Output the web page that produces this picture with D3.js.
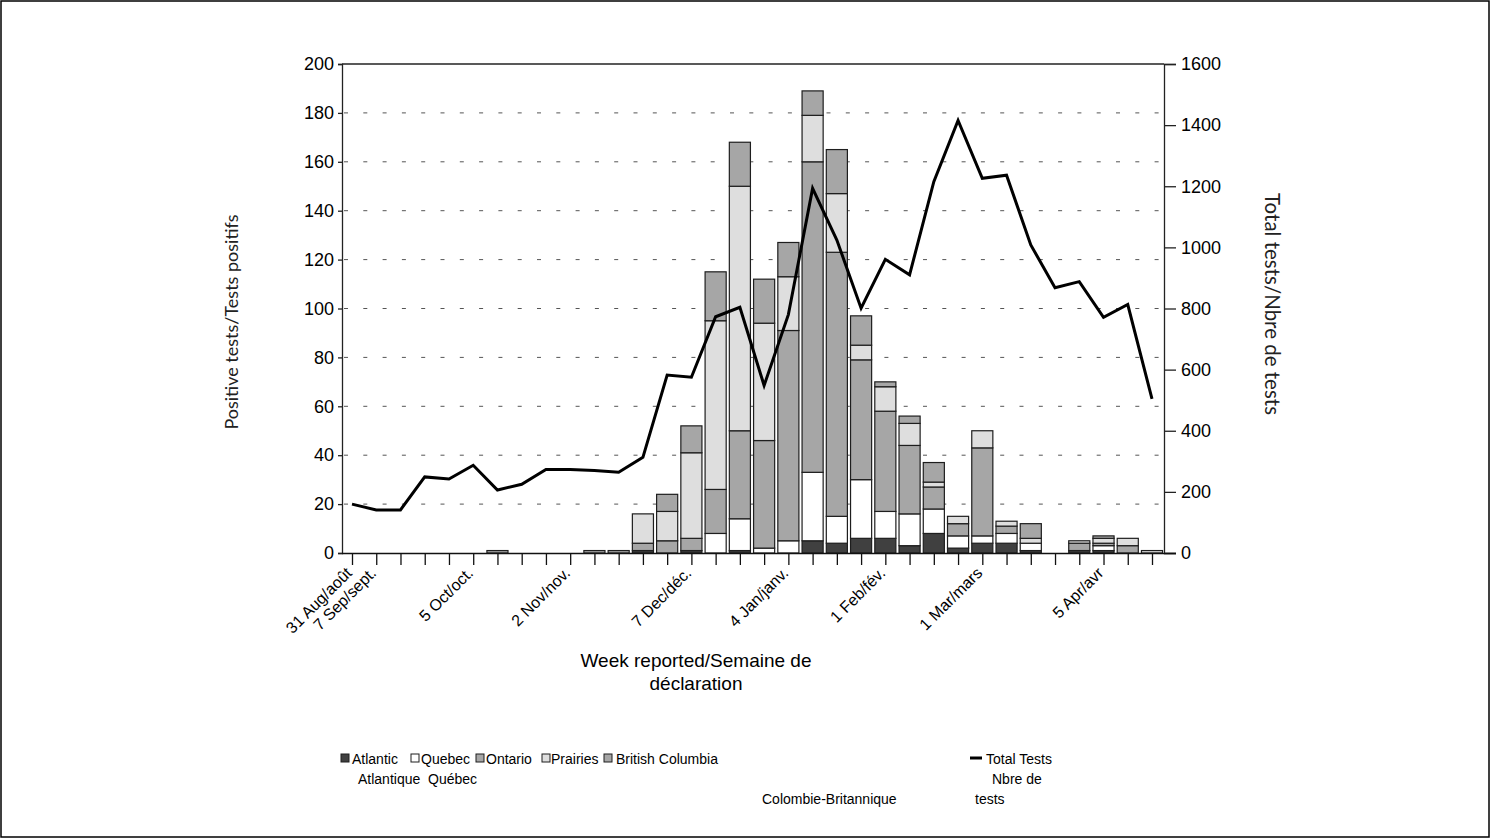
<!DOCTYPE html>
<html>
<head>
<meta charset="utf-8">
<script src="https://cdn.jsdelivr.net/npm/d3@7"></script>
<style>
  html, body { margin: 0; padding: 0; background: #fff; }
  svg { display: block; }
</style>
</head>
<body>
<svg id="chart" width="1491" height="839"></svg>
<script>
// ---------------- DATA ----------------
const weekLabels = ["31 Aug/août","7 Sep/sept.","","","","5 Oct/oct.","","","","2 Nov/nov.","","","","",
  "7 Dec/déc.","","","","4 Jan/janv.","","","","1 Feb/fév.","","","","1 Mar/mars","","","","","5 Apr/avr","",""];
const seriesNames = ["Atlantic","Quebec","Ontario","Prairies","British Columbia"];
const atlantic = [0,0,0,0,0,0,0,0,0,0,0,0,1,0,1,0,1,0,0,5,4,6,6,3,8,2,4,4,1,0,1,1,0,0];
const quebec   = [0,0,0,0,0,0,0,0,0,0,0,0,0,0,0,8,13,2,5,28,11,24,11,13,10,5,3,4,3,0,0,2,0,0];
const ontario  = [0,0,0,0,0,0,1,0,0,0,1,1,3,5,5,18,36,44,86,127,108,49,41,28,9,5,36,3,0,0,3,1,3,0];
const prairies = [0,0,0,0,0,0,0,0,0,0,0,0,12,12,35,69,100,48,22,19,24,6,10,9,2,3,7,2,2,0,1,2,3,1];
const bc       = [0,0,0,0,0,0,0,0,0,0,0,0,0,7,11,20,18,18,14,10,18,12,2,3,8,0,0,0,6,0,0,1,0,0];
const totalTests = [160,141,141,249,242,287,206,225,273,273,270,264,313,582,575,773,804,548,780,1193,
  1024,801,961,910,1215,1415,1226,1236,1008,868,888,771,813,504];
const leftTicks = [0,20,40,60,80,100,120,140,160,180,200];
const rightTicks = [0,200,400,600,800,1000,1200,1400,1600];

// ---------------- LAYOUT / STYLE ----------------
const svg = d3.select("#chart");
const W = 1491, H = 839;
const P = {left: 342, right: 1164, top: 64, bottom: 553};
const colors = ["#404040","#ffffff","#a6a6a6","#dedede","#a6a6a6"];
const FONT = "'Liberation Sans', Arial, sans-serif";
const TITLEFONT = "Lato, 'Open Sans', sans-serif";

svg.append("rect").attr("x",0).attr("y",0).attr("width",W).attr("height",H).attr("fill","#fff");
svg.append("rect").attr("x",1).attr("y",1).attr("width",W-3).attr("height",H-3)
  .attr("fill","none").attr("stroke","#000").attr("stroke-width",1.5);

const idx = d3.range(weekLabels.length);
const x = d3.scalePoint().domain(idx).range([P.left + 10, P.right - 12]);
const bw = x.step() * 0.87;
const yL = d3.scaleLinear().domain([0,200]).range([P.bottom, P.top]);
const yR = d3.scaleLinear().domain([0,1600]).range([P.bottom, P.top]);

// gridlines
svg.append("g").selectAll("line").data(leftTicks.filter(v => v > 0 && v < 200)).join("line")
  .attr("x1", P.left).attr("x2", P.right)
  .attr("y1", d => yL(d)).attr("y2", d => yL(d))
  .attr("stroke", "#555").attr("stroke-width", 1).attr("stroke-dasharray", "4,15.3")
  .attr("stroke-dashoffset", -2);

// top border of plot area
svg.append("line").attr("x1",P.left).attr("x2",P.right).attr("y1",P.top).attr("y2",P.top)
  .attr("stroke","#222").attr("stroke-width",1.3);

// stacked bars
const table = idx.map(i => ({i, s0: atlantic[i], s1: quebec[i], s2: ontario[i], s3: prairies[i], s4: bc[i]}));
const stack = d3.stack().keys(["s0","s1","s2","s3","s4"])(table);
const gb = svg.append("g");
stack.forEach((layer, k) => {
  gb.append("g").selectAll("rect").data(layer.filter(d => d[1] - d[0] > 0)).join("rect")
    .attr("x", d => x(d.data.i) - bw/2)
    .attr("width", bw)
    .attr("y", d => yL(d[1]))
    .attr("height", d => yL(d[0]) - yL(d[1]))
    .attr("fill", colors[k])
    .attr("stroke", "#1e1e1e").attr("stroke-width", 1.2);
});

// axes
const axL = svg.append("g").attr("transform", `translate(${P.left},0)`)
  .call(d3.axisLeft(yL).tickValues(leftTicks).tickSize(4).tickPadding(4));
axL.selectAll("text").attr("font-family", FONT).attr("font-size", 18).attr("fill","#000");
axL.selectAll("line,path").attr("stroke","#222").attr("stroke-width",1.3);

const axR = svg.append("g").attr("transform", `translate(${P.right},0)`)
  .call(d3.axisRight(yR).tickValues(rightTicks).tickFormat(d3.format("d")).tickSize(12).tickPadding(5));
axR.selectAll("text").attr("font-family", FONT).attr("font-size", 18).attr("fill","#000");
axR.selectAll("line,path").attr("stroke","#222").attr("stroke-width",1.3);

const axB = svg.append("g").attr("transform", `translate(0,${P.bottom})`)
  .call(d3.axisBottom(x).tickSize(12).tickSizeOuter(0).tickFormat(""));
axB.select("path").attr("d", `M${P.left},0.5H${P.right + 12}`);
axB.selectAll("line,path").attr("stroke","#111").attr("stroke-width",1.3);

// x tick labels
svg.append("g").selectAll("text").data(idx.filter(i => weekLabels[i] !== "")).join("text")
  .attr("transform", i => `translate(${x(i) + 1},${P.bottom + 21}) rotate(-45)`)
  .attr("text-anchor","end")
  .attr("font-family", FONT).attr("font-size", 16)
  .text(i => weekLabels[i]);

// total tests line
svg.append("path").datum(totalTests)
  .attr("d", d3.line().x((d,i) => x(i)).y(d => yR(d)))
  .attr("fill","none").attr("stroke","#000").attr("stroke-width",3).attr("stroke-linejoin","miter");

// axis titles
svg.append("text").attr("transform", `translate(232,322) rotate(-90)`)
  .attr("text-anchor","middle").attr("dy","0.35em")
  .attr("font-family", TITLEFONT).attr("font-size", 18).attr("fill","#222")
  .text("Positive tests/Tests positifs");
svg.append("text").attr("transform", `translate(1272,304) rotate(90)`)
  .attr("text-anchor","middle").attr("dy","0.35em")
  .attr("font-family", TITLEFONT).attr("font-size", 20.5).attr("fill","#222")
  .text("Total tests/Nbre de tests");
const xt = svg.append("text").attr("text-anchor","middle")
  .attr("font-family", FONT).attr("font-size", 19).attr("fill","#000");
xt.append("tspan").attr("x",696).attr("y",667).text("Week reported/Semaine de");
xt.append("tspan").attr("x",696).attr("y",690).text("déclaration");

// legend
const legendX = [341, 411, 476, 542, 604];
const legendLines = [["Atlantic","Atlantique"],["Quebec","Québec"],["Ontario"],["Prairies"],["British Columbia","","Colombie-Britannique"]];
const legendLineX = [[352,358],[421,428],[486],[551],[616,616,762]];
const rowY = [764, 784, 804];
const lg = svg.append("g").attr("font-family", FONT).attr("font-size", 14);
seriesNames.forEach((name, k) => {
  lg.append("rect").attr("x", legendX[k]).attr("y", 754).attr("width", 8).attr("height", 8)
    .attr("fill", colors[k]).attr("stroke", "#1e1e1e").attr("stroke-width", 1);
  legendLines[k].forEach((t, r) => {
    if (t) lg.append("text").attr("x", legendLineX[k][r]).attr("y", rowY[r]).text(t);
  });
});
lg.append("line").attr("x1", 970).attr("x2", 982).attr("y1", 758).attr("y2", 758)
  .attr("stroke", "#000").attr("stroke-width", 3);
lg.append("text").attr("x", 986).attr("y", rowY[0]).text("Total Tests");
lg.append("text").attr("x", 992).attr("y", rowY[1]).text("Nbre de");
lg.append("text").attr("x", 975).attr("y", rowY[2]).text("tests");
</script>
</body>
</html>
